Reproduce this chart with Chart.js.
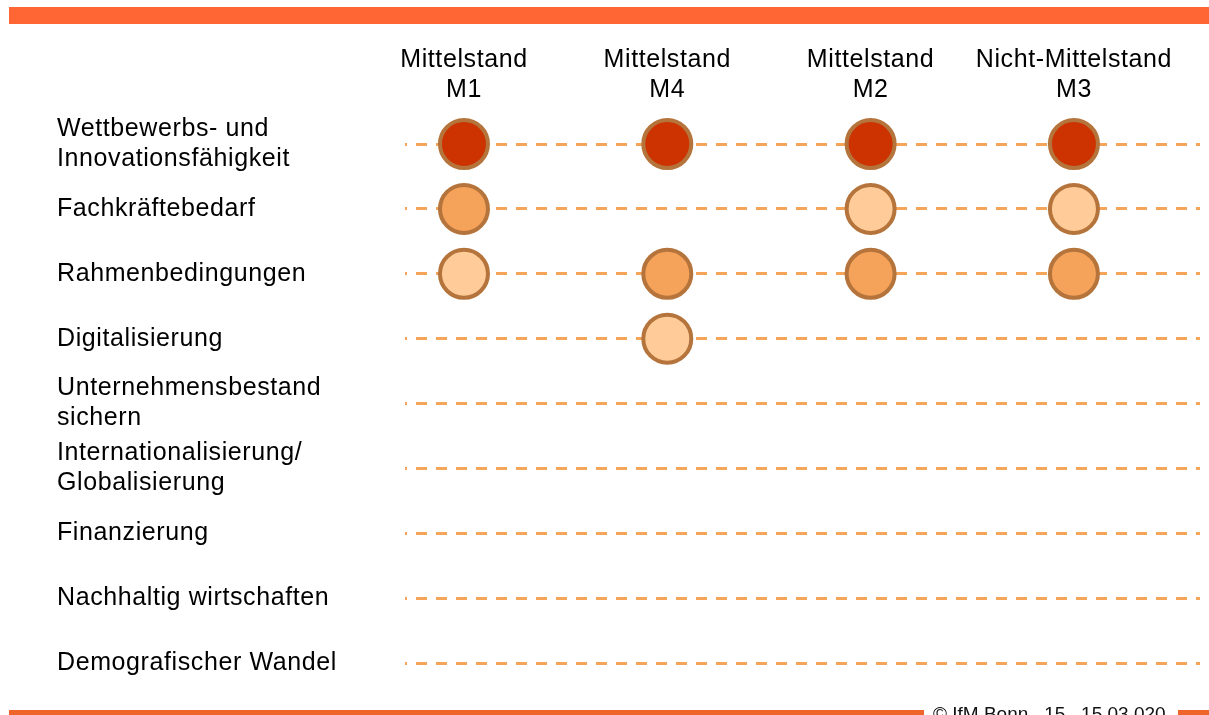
<!DOCTYPE html>
<html lang="de">
<head>
<meta charset="utf-8">
<title>Handlungsfelder Mittelstand</title>
<script src="https://cdn.jsdelivr.net/npm/chart.js@4.4.1/dist/chart.umd.min.js"></script>
<style>
  html, body { margin: 0; padding: 0; background: #fff; }
  body { width: 1209px; height: 715px; position: relative; overflow: hidden;
         font-family: 'Liberation Sans', Arial, sans-serif; }
  #wrap { position: absolute; left: 0; top: 0; width: 1209px; height: 715px; }
  .bar-top { position: absolute; left: 9px; right: 0; top: 7px; height: 17px; background: #ff6633; }
  .bar-bottom { position: absolute; top: 710px; height: 5px; background: #ee6429; }
  .footer { position: absolute; left: 933px; top: 703px; font-size: 19px; line-height: 22px;
            white-space: pre; color: #111; }
</style>
</head>
<body>
<div class="bar-top"></div>
<div id="wrap"><canvas id="matrix"></canvas></div>
<div class="bar-bottom" style="left:9px;width:915px"></div>
<div class="bar-bottom" style="left:1178px;right:0"></div>
<div class="footer">© IfM Bonn   15   15.03.020</div>
<script>
// Handlungsfelder (Zeilen), mehrzeilige Beschriftungen als Arrays
const rows = [
    ['Wettbewerbs- und', 'Innovationsfähigkeit'],
    'Fachkräftebedarf',
    'Rahmenbedingungen',
    'Digitalisierung',
    ['Unternehmensbestand', 'sichern'],
    ['Internationalisierung/', 'Globalisierung'],
    'Finanzierung',
    'Nachhaltig wirtschaften',
    'Demografischer Wandel'
];

// Spalten (Gruppen)
const columns = [
    ['Mittelstand', 'M1'],
    ['Mittelstand', 'M4'],
    ['Mittelstand', 'M2'],
    ['Nicht-Mittelstand', 'M3']
];

// Bedeutung je Spalte und Zeile: 3 = hoch, 2 = mittel, 1 = gering, 0 = keine
const m1 = [3, 2, 1, 0, 0, 0, 0, 0, 0];
const m4 = [3, 0, 2, 1, 0, 0, 0, 0, 0];
const m2 = [3, 1, 2, 0, 0, 0, 0, 0, 0];
const m3 = [3, 1, 2, 0, 0, 0, 0, 0, 0];
const ratings = [m1, m4, m2, m3];

const levels = [3, 2, 1];
const levelNames = ['hoch', 'mittel', 'gering'];
const levelColors = ['#cc3300', '#f5a25a', '#ffcc99'];

const rowKeys = rows.map(r => [].concat(r).join(' '));

function pointsForLevel(level) {
    const pts = [];
    ratings.forEach((col, c) => {
        col.forEach((v, r) => {
            if (v === level) pts.push({ x: c, y: rowKeys[r] });
        });
    });
    return pts;
}

// the slide's lettering is a bit wider than plain Arial
const letterSpacingPlugin = {
    id: 'letterSpacing',
    beforeUpdate: (chart) => { chart.ctx.letterSpacing = '0.6px'; },
    beforeDraw: (chart) => { chart.ctx.letterSpacing = '0.6px'; }
};

const tickFont = { family: "'Liberation Sans', Arial, sans-serif", size: 25, lineHeight: 1.2 };

new Chart(document.getElementById('matrix').getContext('2d'), {
    type: 'scatter',
    data: {
        datasets: levels.map((lv, i) => ({
            label: levelNames[i],
            data: pointsForLevel(lv),
            backgroundColor: levelColors[i],
            borderColor: '#b5743b',
            borderWidth: 4,
            pointRadius: 24,
            pointHoverRadius: 24,
            clip: false
        }))
    },
    options: {
        responsive: true,
        maintainAspectRatio: false,
        animation: false,
        events: [],
        layout: { autoPadding: false, padding: { top: 0, left: 57, right: 9, bottom: 52 } },
        plugins: {
            legend: { display: false },
            tooltip: { enabled: false }
        },
        scales: {
            x: {
                type: 'linear',
                position: 'top',
                min: -0.29,
                max: 3.62,
                afterBuildTicks: (scale) => { scale.ticks = columns.map((_, i) => ({ value: i })); },
                afterFit: (scale) => {
                    scale.height = 144;
                    scale.paddingLeft = 0;
                    scale.paddingRight = 0;
                },
                grid: { display: false, drawTicks: false, tickLength: 0 },
                border: { display: false },
                ticks: {
                    color: '#000',
                    font: tickFont,
                    padding: 39,
                    maxRotation: 0,
                    autoSkip: false,
                    callback: (value) => columns[value]
                }
            },
            y: {
                type: 'category',
                labels: rowKeys,
                offset: false,
                afterFit: (scale) => {
                    scale.width = 348;
                    scale.paddingTop = 0;
                    scale.paddingBottom = 0;
                },
                grid: { color: '#f5a55a', lineWidth: 3, drawTicks: false, tickLength: 0 },
                border: { display: false, dash: [11, 9], dashOffset: 9 },
                ticks: {
                    color: '#000',
                    font: tickFont,
                    crossAlign: 'far',
                    autoSkip: false,
                    callback: (value, index) => rows[index]
                }
            }
        }
    },
    plugins: [letterSpacingPlugin]
});
</script>
</body>
</html>
